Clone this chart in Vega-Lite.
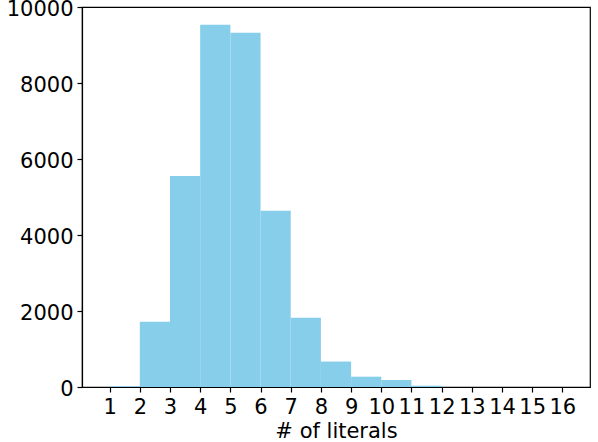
{
  "$schema": "https://vega.github.io/schema/vega-lite/v6.json",
  "width": 508,
  "height": 380,
  "autosize": {"type": "none"},
  "padding": {"left": 82, "top": 7, "right": 8, "bottom": 55},
  "background": "white",
  "config": {
    "view": {"stroke": "black", "strokeWidth": 1.2},
    "font": "DejaVu Sans",
    "axis": {
      "grid": false,
      "domainColor": "black",
      "domainWidth": 1.2,
      "tickColor": "black",
      "tickWidth": 1.2,
      "tickSize": 5,
      "labelFont": "DejaVu Sans",
      "labelFontSize": 21,
      "labelColor": "black",
      "titleFont": "DejaVu Sans",
      "titleFontSize": 21,
      "titleFontWeight": "normal",
      "titleColor": "black"
    }
  },
  "data": {
    "values": [
      {"lo": 1, "hi": 2, "count": 20},
      {"lo": 2, "hi": 3, "count": 1715},
      {"lo": 3, "hi": 4, "count": 5555},
      {"lo": 4, "hi": 5, "count": 9530},
      {"lo": 5, "hi": 6, "count": 9320},
      {"lo": 6, "hi": 7, "count": 4635},
      {"lo": 7, "hi": 8, "count": 1820},
      {"lo": 8, "hi": 9, "count": 670},
      {"lo": 9, "hi": 10, "count": 272},
      {"lo": 10, "hi": 11, "count": 185},
      {"lo": 11, "hi": 12, "count": 35}
    ]
  },
  "mark": {"type": "bar", "color": "#87CEEB", "opacity": 1, "orient": "vertical"},
  "encoding": {
    "x": {
      "field": "lo",
      "type": "quantitative",
      "scale": {"domain": [0.25, 16.75], "nice": false, "zero": false},
      "axis": {
        "values": [1,2,3,4,5,6,7,8,9,10,11,12,13,14,15,16],
        "title": "# of literals",
        "labelPadding": 4,
        "titlePadding": 3,
        "labelFlush": false
      }
    },
    "x2": {"field": "hi"},
    "y": {
      "field": "count",
      "type": "quantitative",
      "scale": {"domain": [0, 10000], "nice": false},
      "axis": {
        "values": [0, 2000, 4000, 6000, 8000, 10000],
        "format": "d",
        "title": null,
        "labelPadding": 4,
        "labelOffset": 2,
        "labelFlush": false
      }
    },
    "y2": {"datum": 0}
  }
}
